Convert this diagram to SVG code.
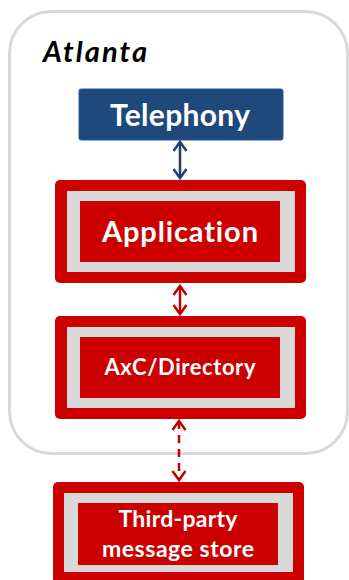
<svg xmlns="http://www.w3.org/2000/svg" width="349" height="580" viewBox="0 0 349 580">
<defs>
<style>
.lbl{font-family:Lato,"Open Sans","Liberation Sans",sans-serif;font-weight:bold;fill:#ffffff;text-anchor:middle;font-variant-ligatures:none}
.outer{fill:#CC0000}
.gray{fill:#D9D9D9}
.inner{fill:#CC0000}
.conn{fill:none;stroke-width:2.5}
</style>
<marker id="hNavy" markerUnits="userSpaceOnUse" markerWidth="20" markerHeight="20" refX="0" refY="0" viewBox="-12 -10 14 20" orient="auto-start-reverse" overflow="visible">
<path d="M-9,-6.5 L0,0 L-9,6.5" fill="none" stroke="#1F3F6E" stroke-width="2.5"/>
</marker>
<marker id="hRed" markerUnits="userSpaceOnUse" markerWidth="20" markerHeight="20" refX="0" refY="0" viewBox="-12 -10 14 20" orient="auto-start-reverse" overflow="visible">
<path d="M-9,-6.5 L0,0 L-9,6.5" fill="none" stroke="#C00000" stroke-width="2.5"/>
</marker>
</defs>
<rect width="349" height="580" fill="#ffffff"/>
<g id="atlanta">
<rect x="9.5" y="11.5" width="338" height="442" rx="42" fill="#ffffff" stroke="#D9D9D9" stroke-width="3"/>
<text x="43" y="62" font-family="Lato, Open Sans, Liberation Sans, sans-serif" font-weight="bold" font-style="italic" font-size="29" fill="#000000" textLength="104">Atlanta</text>
</g>
<g id="telephony">
<rect x="79" y="89" width="204" height="51" rx="2" fill="#1F497D" stroke="#2E5A90" stroke-width="1"/>
<text class="lbl" x="180" y="126" font-size="30" textLength="140">Telephony</text>
</g>
<g id="application">
<rect class="outer" x="55" y="180" width="251" height="103" rx="5"/>
<rect class="gray" x="67" y="191" width="228" height="81"/>
<rect class="inner" x="80" y="201" width="200" height="61"/>
<text class="lbl" x="180" y="242" font-size="29" textLength="156">Application</text>
</g>
<g id="axc">
<rect class="outer" x="55" y="316" width="251" height="103" rx="5"/>
<rect class="gray" x="67" y="327" width="228" height="81"/>
<rect class="inner" x="80" y="337" width="200" height="61"/>
<text class="lbl" x="180" y="375" font-size="22" textLength="151">AxC/Directory</text>
</g>
<g id="thirdparty">
<rect class="outer" x="53" y="482" width="251" height="110" rx="5"/>
<rect class="gray" x="64" y="493" width="229" height="79"/>
<rect class="inner" x="78" y="503" width="200" height="62"/>
<text class="lbl" x="178" y="527" font-size="23" textLength="119">Third-party</text>
<text class="lbl" x="178" y="557" font-size="23" textLength="152">message store</text>
</g>
<g id="connectors">
<line class="conn" x1="180" y1="142" x2="180" y2="178" stroke="#1F3F6E" marker-start="url(#hNavy)" marker-end="url(#hNavy)"/>
<line class="conn" x1="180" y1="286" x2="180" y2="314" stroke="#C00000" marker-start="url(#hRed)" marker-end="url(#hRed)"/>
<line class="conn" x1="179" y1="421" x2="179" y2="480" stroke="#C00000" stroke-dasharray="8 6" marker-start="url(#hRed)" marker-end="url(#hRed)"/>
</g>
</svg>
